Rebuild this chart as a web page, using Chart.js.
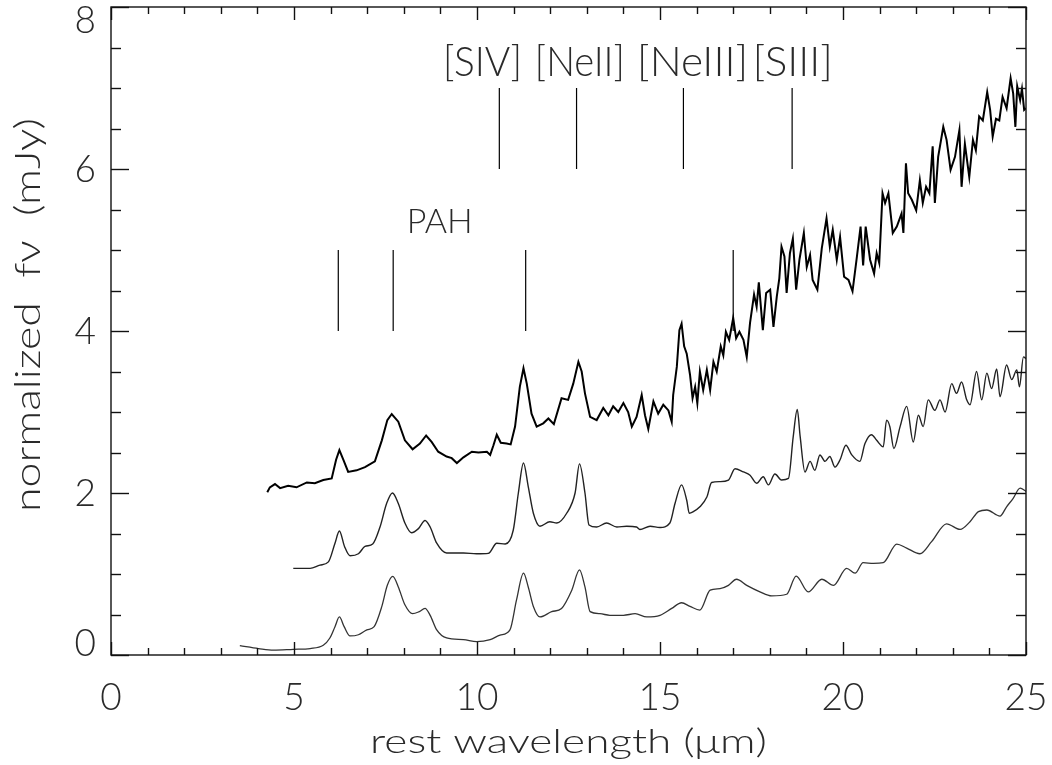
<!DOCTYPE html>
<html>
<head>
<meta charset="utf-8">
<script src="https://cdn.jsdelivr.net/npm/chart.js@4.4.1/dist/chart.umd.min.js"></script>
<style>
  html, body { margin: 0; padding: 0; background: #fff; }
  #wrap { width: 1052px; height: 765px; position: relative; }
</style>
</head>
<body>
<div id="wrap"><canvas id="spec"></canvas></div>
<script>
// Spectra (rest wavelength in micron, normalized flux in mJy)
const topWave = [4.27,4.34,4.48,4.62,4.84,5.07,5.35,5.57,5.80,6.03,
  6.15,6.24,6.35,6.48,6.71,6.94,7.21,7.40,7.55,7.67,
  7.85,8.03,8.24,8.44,8.61,8.76,8.94,9.17,9.31,9.45,
  9.63,9.86,10.04,10.27,10.36,10.45,10.54,10.65,10.81,10.92,
  11.04,11.17,11.27,11.36,11.49,11.63,11.81,11.95,12.10,12.31,
  12.49,12.63,12.77,12.86,12.95,13.09,13.27,13.45,13.59,13.72,
  13.86,14.00,14.13,14.23,14.36,14.50,14.59,14.68,14.82,14.95,
  15.09,15.23,15.32,15.36,15.46,15.53,15.59,15.66,15.73,15.82,
  15.89,15.96,16.02,16.09,16.18,16.28,16.37,16.46,16.55,16.66,
  16.73,16.80,16.89,17.00,17.08,17.17,17.28,17.37,17.46,17.57,
  17.64,17.70,17.81,17.90,18.01,18.10,18.19,18.26,18.32,18.40,
  18.46,18.55,18.63,18.72,18.81,18.93,19.01,19.10,19.17,19.30,
  19.42,19.55,19.64,19.72,19.83,19.92,20.03,20.15,20.26,20.37,
  20.48,20.55,20.62,20.74,20.85,20.92,20.99,21.08,21.15,21.24,
  21.36,21.47,21.60,21.65,21.72,21.78,21.88,22.00,22.10,22.18,
  22.27,22.36,22.45,22.51,22.60,22.74,22.83,22.94,23.06,23.18,
  23.24,23.33,23.45,23.55,23.63,23.72,23.82,23.94,24.02,24.09,
  24.18,24.27,24.36,24.47,24.58,24.65,24.71,24.76,24.84,24.89,
  24.95,25.0];
const topFlux = [2.01,2.07,2.11,2.06,2.09,2.07,2.13,2.12,2.16,2.18,
  2.41,2.53,2.41,2.26,2.28,2.32,2.39,2.65,2.90,2.975,
  2.88,2.65,2.54,2.61,2.71,2.63,2.51,2.45,2.43,2.37,
  2.44,2.51,2.50,2.51,2.47,2.59,2.72,2.62,2.61,2.60,
  2.82,3.31,3.54,3.35,2.98,2.82,2.86,2.92,2.85,3.17,
  3.15,3.35,3.62,3.50,3.23,2.94,2.90,3.05,2.96,3.07,
  3.00,3.11,3.00,2.82,2.94,3.21,2.96,2.79,3.13,2.98,
  3.09,3.02,2.88,3.21,3.56,4.01,4.09,3.81,3.72,3.46,
  3.17,3.31,3.11,3.50,3.27,3.52,3.27,3.62,3.50,3.81,
  3.70,3.99,3.89,4.16,3.91,3.99,3.89,3.68,4.10,4.45,
  4.30,4.60,4.01,4.47,4.51,4.05,4.42,4.65,5.04,4.92,
  4.47,4.96,5.14,4.51,4.88,5.21,4.79,4.94,4.63,4.51,
  5.02,5.39,5.04,5.25,4.88,5.16,4.67,4.63,4.49,4.88,
  5.29,4.81,5.29,4.88,4.71,4.96,4.84,5.70,5.58,5.70,
  5.21,5.29,5.45,5.21,6.07,5.70,5.62,5.49,5.86,5.58,
  5.78,5.70,6.28,5.58,6.15,6.52,6.36,5.99,6.15,6.48,
  5.78,6.31,5.90,6.36,6.23,6.65,6.60,6.95,6.73,6.40,
  6.62,6.60,6.89,6.75,7.12,6.93,6.52,7.02,6.85,6.99,
  6.73,6.75];

const midWave = [4.98,5.44,5.71,5.94,6.12,6.24,6.38,6.53,6.76,6.94,
  7.15,7.35,7.53,7.69,7.85,8.03,8.21,8.40,8.58,8.72,
  8.90,9.17,9.63,9.99,10.31,10.54,10.77,10.99,11.13,11.27,
  11.40,11.54,11.72,11.99,12.18,12.45,12.68,12.80,12.95,13.06,
  13.27,13.54,13.82,14.09,14.36,14.45,14.73,15.0,15.27,15.41,
  15.59,15.73,15.80,15.91,16.09,16.28,16.41,16.64,16.87,17.05,
  17.28,17.46,17.64,17.82,17.96,18.14,18.32,18.51,18.64,18.75,
  18.83,18.96,19.10,19.23,19.37,19.51,19.64,19.78,19.92,20.08,
  20.24,20.46,20.60,20.78,20.92,21.10,21.19,21.28,21.39,21.56,
  21.74,21.92,22.06,22.19,22.33,22.51,22.65,22.79,22.97,23.10,
  23.24,23.38,23.47,23.65,23.79,23.93,24.06,24.20,24.29,24.47,
  24.61,24.75,24.82,24.93,25.0];
const midFlux = [1.07,1.07,1.11,1.15,1.38,1.53,1.34,1.225,1.25,1.34,
  1.37,1.58,1.87,2.0,1.87,1.63,1.51,1.56,1.66,1.58,
  1.38,1.26,1.26,1.25,1.255,1.38,1.37,1.54,2.0,2.37,
  2.08,1.75,1.59,1.645,1.63,1.75,2.0,2.36,2.0,1.605,
  1.58,1.63,1.58,1.59,1.58,1.55,1.59,1.575,1.63,1.87,
  2.10,1.91,1.75,1.77,1.83,1.95,2.13,2.14,2.16,2.30,
  2.26,2.22,2.12,2.20,2.10,2.235,2.16,2.18,2.695,3.03,
  2.695,2.26,2.39,2.28,2.47,2.39,2.45,2.32,2.41,2.59,
  2.47,2.39,2.61,2.72,2.65,2.57,2.90,2.82,2.55,2.82,
  3.07,2.63,2.96,2.82,3.15,3.02,3.15,3.00,3.35,3.23,
  3.37,3.15,3.09,3.50,3.15,3.48,3.29,3.53,3.19,3.58,
  3.40,3.52,3.31,3.68,3.66];

const lowWave = [3.52,4.03,4.44,4.98,5.44,5.80,5.98,6.12,6.24,6.37,
  6.53,6.76,6.99,7.19,7.40,7.55,7.70,7.85,8.03,8.24,
  8.42,8.58,8.72,8.90,9.17,9.63,9.99,10.36,10.63,10.90,
  11.08,11.27,11.40,11.54,11.72,12.04,12.31,12.59,12.80,12.95,
  13.09,13.36,13.63,14.0,14.32,14.64,15.0,15.32,15.59,15.82,
  16.09,16.37,16.64,16.87,17.09,17.37,17.73,18.05,18.46,18.72,
  19.05,19.42,19.74,20.10,20.33,20.55,20.83,21.10,21.47,21.74,
  22.10,22.42,22.83,23.20,23.47,23.70,23.93,24.29,24.47,24.65,
  24.84,25.0];
const lowFlux = [0.115,0.08,0.06,0.07,0.08,0.12,0.21,0.35,0.47,0.35,
  0.235,0.25,0.31,0.35,0.60,0.86,0.97,0.84,0.62,0.51,
  0.535,0.575,0.49,0.31,0.21,0.19,0.165,0.19,0.245,0.31,
  0.68,1.01,0.84,0.60,0.47,0.535,0.575,0.80,1.05,0.84,
  0.535,0.51,0.49,0.49,0.51,0.47,0.49,0.575,0.645,0.60,
  0.555,0.80,0.82,0.86,0.935,0.86,0.78,0.73,0.75,0.975,
  0.78,0.935,0.86,1.07,1.01,1.14,1.13,1.14,1.37,1.32,
  1.25,1.40,1.62,1.55,1.645,1.77,1.79,1.715,1.83,1.935,
  2.06,2.02];

// Line identifications
const ionNames = ['[SIV]', '[NeII]', '[NeIII]', '[SIII]'];
const ionLabelX = [10.15, 12.81, 15.89, 18.63];
const ionLineX = [10.61, 12.72, 15.64, 18.61];
const ionLineY = [6, 7];
const pahName = 'PAH';
const pahLabelX = 8.98;
const pahLineX = [6.21, 7.71, 11.33, 17.0];
const pahLineY = [4, 5];

// Axes
const xMajorTicks = [0, 5, 10, 15, 20, 25];
const xTickLabels = ['0', '5', '10', '15', '20', '25'];
const yMajorTicks = [0, 2, 4, 6, 8];
const yTickLabels = ['0', '2', '4', '6', '8'];
const xTitle = 'rest wavelength (\u03BCm)';
const yTitle = 'normalized  f\u03BD  (mJy)';

const FONT = "Lato, 'DejaVu Sans', sans-serif";
const WEIGHT = '300 ';
const toPts = (xs, ys) => xs.map((v, i) => ({ x: v, y: ys[i] }));

// draw text squeezed/stretched to an exact width
function fitText(ctx, text, cx, base, width, size) {
    ctx.font = WEIGHT + size + 'px ' + FONT;
    const w = ctx.measureText(text).width;
    ctx.save();
    ctx.translate(cx, base);
    ctx.scale(width / w, 1);
    ctx.textAlign = 'center';
    ctx.textBaseline = 'alphabetic';
    ctx.fillText(text, 0, 0);
    ctx.restore();
}

const idlAxes = {
    id: 'idlAxes',
    afterDatasetsDraw(chart) {
        const { ctx, chartArea: a, scales: { x, y } } = chart;
        ctx.save();
        ctx.strokeStyle = '#111';
        ctx.fillStyle = '#2a2a2a';
        ctx.lineWidth = 1.4;
        ctx.strokeRect(a.left, a.top, a.right - a.left, a.bottom - a.top);

        const seg = (x1, y1, x2, y2) => { ctx.beginPath(); ctx.moveTo(x1, y1); ctx.lineTo(x2, y2); ctx.stroke(); };

        // x ticks, minor every 1, major every 5
        for (let v = 0; v <= 25; v++) {
            const px = Math.round(x.getPixelForValue(v)) + 0.5;
            const len = xMajorTicks.includes(v) ? 13 : 7;
            seg(px, a.bottom, px, a.bottom - len);
            seg(px, a.top, px, a.top + len);
        }
        // y ticks, minor every 0.5, major every 2
        for (let v = 0; v <= 8; v += 0.5) {
            const py = Math.round(y.getPixelForValue(v)) + 0.5;
            const len = yMajorTicks.includes(v) ? 18 : 10;
            seg(a.left, py, a.left + len, py);
            seg(a.right, py, a.right - len, py);
        }

        // tick labels
        ctx.font = WEIGHT + '37px ' + FONT;
        ctx.textBaseline = 'alphabetic';
        ctx.textAlign = 'center';
        xMajorTicks.forEach((v, i) => {
            ctx.fillText(xTickLabels[i], x.getPixelForValue(v), a.bottom + 55);
        });
        ctx.textAlign = 'right';
        yMajorTicks.forEach((v, i) => {
            let c = y.getPixelForValue(v);
            c = Math.min(Math.max(c, a.top + 12.5), a.bottom - 12.5);
            ctx.fillText(yTickLabels[i], a.left - 15, c + 13);
        });

        // axis titles
        fitText(ctx, xTitle, (a.left + a.right) / 2, 753, 397, 33);
        ctx.save();
        ctx.translate(40, 315);
        ctx.rotate(-Math.PI / 2);
        fitText(ctx, yTitle, 0, 0, 394, 36);
        ctx.restore();

        // line identification labels
        ionNames.forEach((t, i) => {
            const w = [79, 90, 111, 80][i];
            fitText(ctx, t, x.getPixelForValue(ionLabelX[i]), y.getPixelForValue(7.15), w, 41);
        });
        fitText(ctx, pahName, x.getPixelForValue(pahLabelX), y.getPixelForValue(5.21), 66, 34);
        ctx.restore();
    }
};

const markerSets = [];
ionLineX.forEach(v => markerSets.push({ data: ionLineY.map(h => ({ x: v, y: h })), borderColor: '#000', borderWidth: 1.2 }));
pahLineX.forEach(v => markerSets.push({ data: pahLineY.map(h => ({ x: v, y: h })), borderColor: '#000', borderWidth: 1.2 }));

new Chart(document.getElementById('spec'), {
    type: 'scatter',
    data: {
        datasets: [
            // noisy top spectrum keeps straight segments, the cleaner ones are smoothed
            { label: 'top', data: toPts(topWave, topFlux), borderColor: '#000', borderWidth: 2, tension: 0 },
            { label: 'middle', data: toPts(midWave, midFlux), borderColor: '#222', borderWidth: 1.4, cubicInterpolationMode: 'monotone' },
            { label: 'bottom', data: toPts(lowWave, lowFlux), borderColor: '#333', borderWidth: 1.3, cubicInterpolationMode: 'monotone' },
            ...markerSets
        ].map(d => Object.assign({ showLine: true, pointRadius: 0, fill: false }, d))
    },
    options: {
        responsive: true, maintainAspectRatio: false, animation: false,
        layout: { padding: { left: 111, right: 26, top: 7, bottom: 110 } },
        scales: {
            x: { type: 'linear', min: 0, max: 25, display: false },
            y: { type: 'linear', min: 0, max: 8, display: false }
        },
        plugins: { legend: { display: false }, tooltip: { enabled: false } }
    },
    plugins: [idlAxes]
});
</script>
</body>
</html>
